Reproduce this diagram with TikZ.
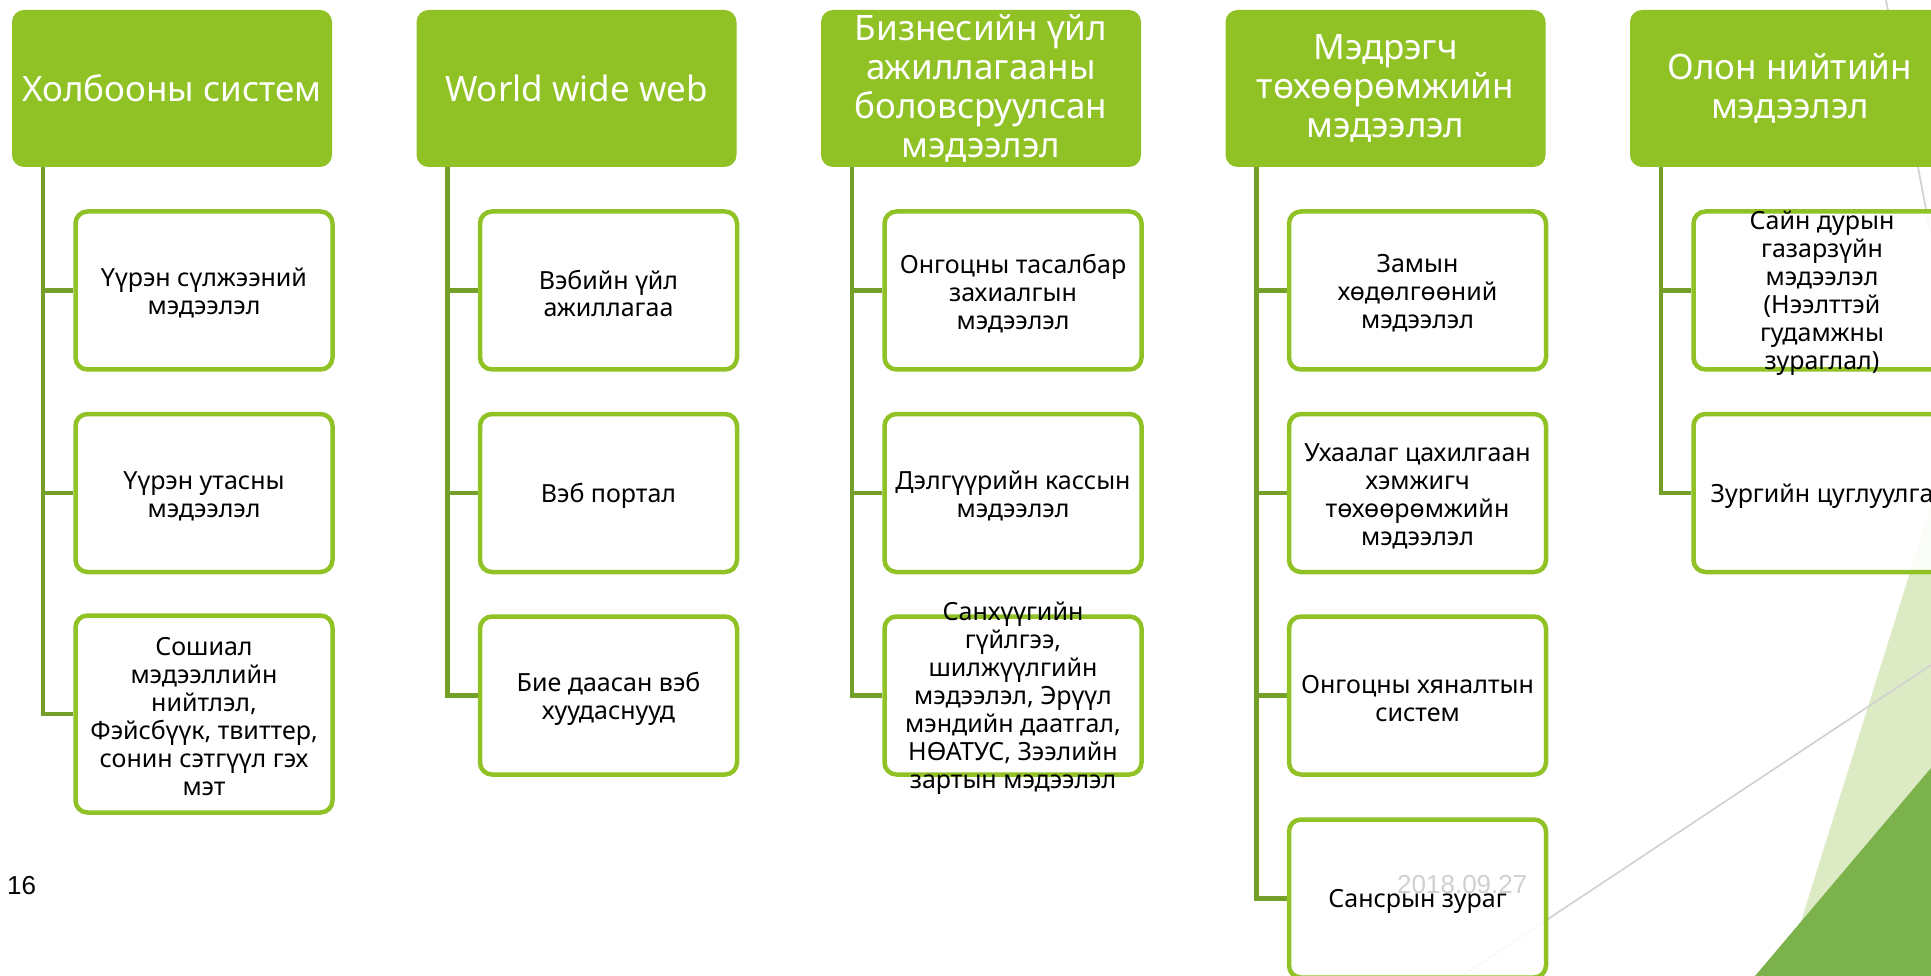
\documentclass[tikz,border=0pt]{standalone}
\usepackage{fontspec}
\setmainfont{Noto Sans}
\newfontfamily\slidefont{Liberation Sans}
\usetikzlibrary{backgrounds}

\definecolor{facetgreen}{HTML}{90C226}
\definecolor{stemgreen}{HTML}{74A02A}
\definecolor{palegreen}{HTML}{DDEBC4}
\definecolor{deepgreen}{HTML}{7CB24C}
\definecolor{rulegray}{HTML}{D0D0D0}

\begin{document}
\begin{tikzpicture}[
    x=1pt, y=-1pt,
    hdr/.style    ={fill=facetgreen, rounded corners=12pt, align=center,
                    text=white, inner sep=0pt,
                    minimum width=320pt, minimum height=157pt,
                    font=\fontsize{35}{39}\selectfont},
    leaf/.style   ={draw=facetgreen, line width=4.5pt, rounded corners=12pt,
                    fill=white, fill opacity=0.88,
                    minimum width=257pt, minimum height=158pt},
    leaftxt/.style={align=center, inner sep=0pt, yshift=-3pt,
                    font=\fontsize{25}{28}\selectfont},
    stem/.style   ={draw=stemgreen, line width=4.5pt},
    accent/.style ={draw=rulegray, line width=1.6pt},
    footer/.style ={anchor=base west, inner sep=0pt,
                    font=\slidefont\fontsize{26}{30}\selectfont}
  ]
  \useasboundingbox (0,0) rectangle (1931,976);
  \clip (0,0) rectangle (1931,976);

  % ---- slide decoration -------------------------------------------------
  \begin{pgfonlayer}{background}
    \fill[white] (0,0) rectangle (1931,976);
    \fill[palegreen] (1784,976) -- (1931,505) -- (1931,976) -- cycle;
    \fill[deepgreen] (1755,976) -- (1931,768) -- (1931,976) -- cycle;
    \draw[accent] (1462,976) -- (1931,665);
    \draw[accent] (1886,0) -- (1931,235);
  \end{pgfonlayer}

  % ---- headers -----------------------------------------------------------
  \node[hdr] (h1) at (172,88.5)    {Холбооны систем};
  \node[hdr] (h2) at (576.5,88.5)  {World wide web};
  \node[hdr] (h3) at (981,88.5)    {Бизнесийн үйл\\ажиллагааны\\боловсруулсан\\мэдээлэл};
  \node[hdr] (h4) at (1385.5,88.5) {Мэдрэгч\\төхөөрөмжийн\\мэдээлэл};
  \node[hdr] (h5) at (1790,88.5)   {Олон нийтийн\\мэдээлэл};

  % ---- column 1 ----------------------------------------------------------
  \node[leaf] (c11) at (204,290.5) {};
  \node[leaf] (c12) at (204,493)   {};
  \node[leaf, minimum height=197pt] (c13) at (204,714) {};
  \node[leaftxt] (t11) at (c11) {Үүрэн сүлжээний\\мэдээлэл};
  \node[leaftxt] (t12) at (c12) {Үүрэн утасны\\мэдээлэл};
  \node[leaftxt] (t13) at (c13) {Сошиал\\мэдээллийн\\нийтлэл,\\Фэйсбүүк, твиттер,\\сонин сэтгүүл гэх\\мэт};

  % ---- column 2 ----------------------------------------------------------
  \node[leaf] (c21) at (608.5,290.5) {};
  \node[leaf] (c22) at (608.5,493)   {};
  \node[leaf] (c23) at (608.5,695.5) {};
  \node[leaftxt] (t21) at (c21) {Вэбийн үйл\\ажиллагаа};
  \node[leaftxt] (t22) at (c22) {Вэб портал};
  \node[leaftxt] (t23) at (c23) {Бие даасан вэб\\хуудаснууд};

  % ---- column 3 ----------------------------------------------------------
  \node[leaf] (c31) at (1013,290.5) {};
  \node[leaf] (c32) at (1013,493)   {};
  \node[leaf] (c33) at (1013,695.5) {};
  \node[leaftxt] (t31) at (c31) {Онгоцны тасалбар\\захиалгын\\мэдээлэл};
  \node[leaftxt] (t32) at (c32) {Дэлгүүрийн кассын\\мэдээлэл};
  \node[leaftxt] (t33) at (c33) {Санхүүгийн\\гүйлгээ,\\шилжүүлгийн\\мэдээлэл, Эрүүл\\мэндийн даатгал,\\НӨАТУС, Зээлийн\\зартын мэдээлэл};

  % ---- column 4 ----------------------------------------------------------
  \node[leaf] (c41) at (1417.5,290.5) {};
  \node[leaf] (c42) at (1417.5,493)   {};
  \node[leaf] (c43) at (1417.5,695.5) {};
  \node[leaf] (c44) at (1417.5,898.5) {};
  \node[leaftxt] (t41) at (c41) {Замын\\хөдөлгөөний\\мэдээлэл};
  \node[leaftxt] (t42) at (c42) {Ухаалаг цахилгаан\\хэмжигч\\төхөөрөмжийн\\мэдээлэл};
  \node[leaftxt] (t43) at (c43) {Онгоцны хяналтын\\систем};
  \node[leaftxt] (t44) at (c44) {Сансрын зураг};

  % ---- column 5 ----------------------------------------------------------
  \node[leaf] (c51) at (1822,290.5) {};
  \node[leaf] (c52) at (1822,493)   {};
  \node[leaftxt] (t51) at (c51) {Сайн дурын\\газарзүйн\\мэдээлэл\\(Нээлттэй\\гудамжны\\зураглал)};
  \node[leaftxt] (t52) at (c52) {Зургийн цуглуулга};

  % ---- stems: header -> leaves -------------------------------------------
  \begin{pgfonlayer}{background}
    \foreach \c in {c11,c12,c13}
      \draw[stem] ([xshift=31pt]h1.south west) |- (\c.west);
    \foreach \c in {c21,c22,c23}
      \draw[stem] ([xshift=31pt]h2.south west) |- (\c.west);
    \foreach \c in {c31,c32,c33}
      \draw[stem] ([xshift=31pt]h3.south west) |- (\c.west);
    \foreach \c in {c41,c42,c43,c44}
      \draw[stem] ([xshift=31pt]h4.south west) |- (\c.west);
    \foreach \c in {c51,c52}
      \draw[stem] ([xshift=31pt]h5.south west) |- (\c.west);
  \end{pgfonlayer}

  % ---- footer --------------------------------------------------------------
  \node[footer] (pgno) at (7,894) {16};
  \node[footer, text=rulegray] (date) at (1397,893) {2018.09.27};

\end{tikzpicture}
\end{document}
